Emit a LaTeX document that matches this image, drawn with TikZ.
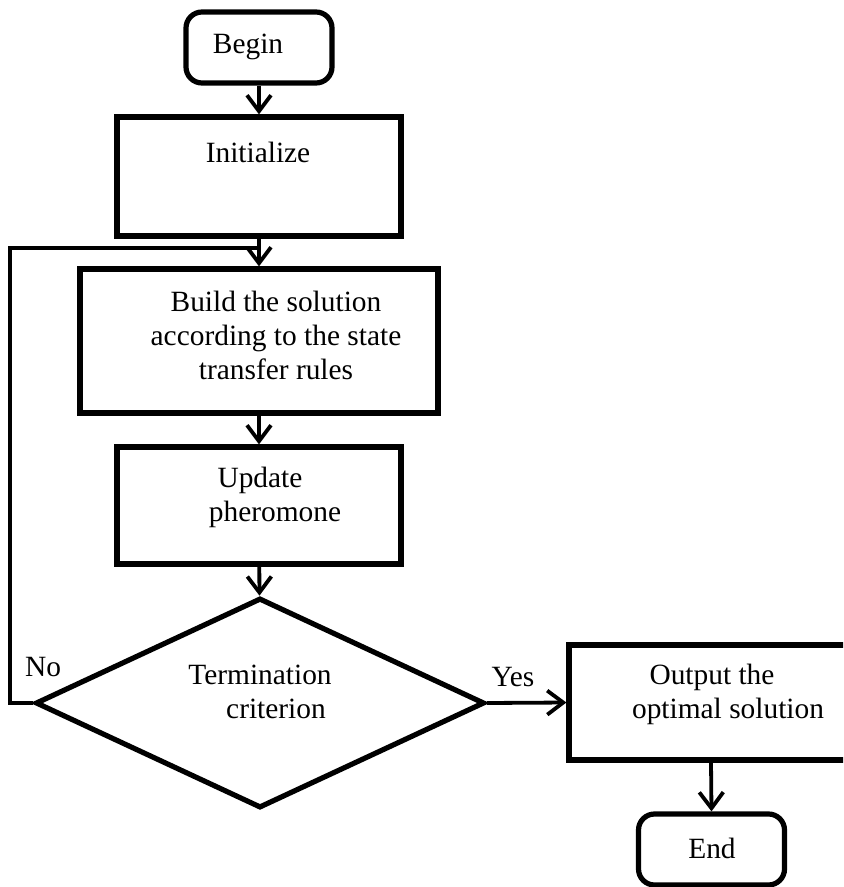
\documentclass[tikz,border=0pt]{standalone}
\usepackage{fontspec}
\setmainfont{Liberation Serif}
\usetikzlibrary{arrows.meta,shapes.geometric}

\begin{document}
\begin{tikzpicture}[x = 0.5pt, y = -0.5pt,
        box/.style = {draw, line width = 2.6pt, inner sep = 0pt},
        term/.style = {box, rounded corners = 8pt, minimum width = 73pt, minimum height = 35.5pt},
        txt/.style = {align = center, inner sep = 0pt, font = \fontsize{14.7}{17}\selectfont},
        flow/.style = {draw, line width = 1.9pt, -{Straight Barb[length = 8pt, width = 12pt]}}]
        % frame
        \path[use as bounding box](0,0)rectangle(843,887);
        \clip(0,0)rectangle(843,887);
        % boxes
        \node[term](begin)at(259,47.5){};
        \node[box, minimum width = 142pt, minimum height = 59.5pt](init)at(259,176.5){};
        \node[box, minimum width = 179pt, minimum height = 72pt](build)at(259,341){};
        \node[box, minimum width = 142pt, minimum height = 58.5pt](update)at(259,505.5){};
        \node[box, diamond, minimum width = 224.5pt, minimum height = 105pt](crit)at(260,703){};
        \node[box, minimum width = 142pt, minimum height = 57.5pt](output)at(711,702.5){};
        \node[term](end)at(711.5,849.5){};
        % texts
        \node[txt](beginT)at(248,47){Begin};
        \node[txt](initT)at(258,152){Initialize};
        \node[txt](buildT)at(276,335){Build the solution\\according to the state\\transfer rules};
        \node[txt](updateT)at(275,497){Update\hspace*{15pt}\\pheromone};
        \node[txt](critT)at(276,692){Termination\hspace*{16pt}\\criterion};
        \node[txt](outputT)at(728,694){Output the\hspace*{16pt}\\optimal solution};
        \node[txt](endT)at(712,848){End};
        \node[txt](no)at(43,667){No};
        \node[txt](yes)at(513,677){Yes};
        % arrows
        \coordinate(loopTop)at(259,248);
        \path[flow](begin)to(init);
        \path[flow](init)to(build);
        \path[flow](build)to(update);
        \path[flow](update)to(crit);
        \path[flow](crit.east)to(output.west);
        \path[flow](output.south)to(end.north);
        % loop back
        \path[draw, line width = 1.9pt](crit.west)--++(-23,0)|-(loopTop);
    \end{tikzpicture}
\end{document}
